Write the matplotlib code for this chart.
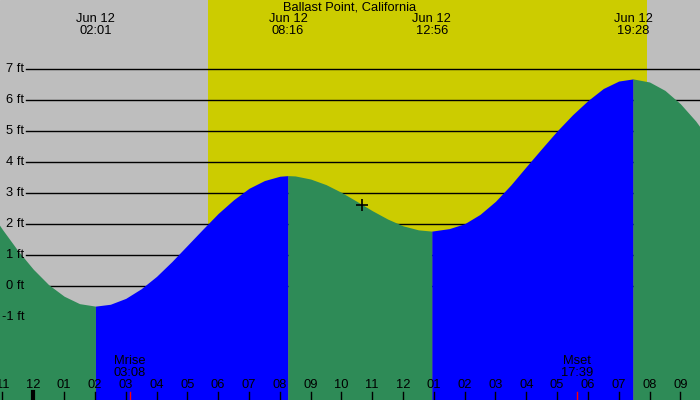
import matplotlib
matplotlib.use("Agg")
import matplotlib.pyplot as plt
import numpy as np

plt.rcParams['font.family'] = ['Liberation Sans', 'DejaVu Sans']

title = "Ballast Point, California"

# tide height readings (hours after midnight Jun 12, feet)
times = [-1.5, -1.0, -0.5, 0.0, 0.5, 1.0, 1.5, 2.017,
         2.5, 3.0, 3.5, 4.0, 4.5, 5.0, 5.5, 6.0, 6.5, 7.0, 7.5, 8.0, 8.267,
         8.5, 9.0, 9.5, 10.0, 10.5, 11.0, 11.5, 12.0, 12.5, 12.933,
         13.5, 14.0, 14.5, 15.0, 15.5, 16.0, 16.5, 17.0, 17.5, 18.0, 18.5, 19.0, 19.467,
         20.0, 20.5, 21.0, 21.5, 22.0]
heights = [2.56, 1.83, 1.15, 0.55, 0.05, -0.32, -0.56, -0.64,
           -0.58, -0.39, -0.08, 0.32, 0.80, 1.32, 1.84, 2.35, 2.79, 3.16, 3.41, 3.55, 3.57,
           3.56, 3.46, 3.28, 3.03, 2.74, 2.44, 2.17, 1.95, 1.82, 1.78,
           1.86, 2.02, 2.32, 2.74, 3.27, 3.86, 4.44, 5.01, 5.53, 5.99, 6.38, 6.62, 6.69,
           6.59, 6.32, 5.89, 5.33, 4.65]

# extremes labelled at top
extreme_times = [2.017, 8.267, 12.933, 19.467]
extreme_labels = ["Jun 12\n02:01", "Jun 12\n08:16", "Jun 12\n12:56", "Jun 12\n19:28"]

sunrise = 5.67
sunset = 19.93

moon_times = [3.133, 17.65]
moon_labels = ["Mrise\n03:08", "Mset\n17:39"]

now_time = 10.678
now_height = 2.62

hour_ticks = list(range(-1, 22))
hour_labels = ["11", "12", "01", "02", "03", "04", "05", "06", "07", "08", "09", "10",
               "11", "12", "01", "02", "03", "04", "05", "06", "07", "08", "09"]

grid_levels = [-1, 0, 1, 2, 3, 4, 5, 6, 7]
grid_labels = ["-1 ft", "0 ft", "1 ft", "2 ft", "3 ft", "4 ft", "5 ft", "6 ft", "7 ft"]

GREY = "#BEBEBE"
YELLOW = "#CCCC00"
GREEN = "#2E8B57"
BLUE = "#0000FF"
FS = 9.3

fig = plt.figure(figsize=(7, 4), dpi=100)
ax = fig.add_axes([0, 0, 1, 1])
ax.set_facecolor(GREY)
x0, x1 = -1.081, 21.639
y0, y1 = -3.668, 9.235
ax.set_xlim(x0, x1)
ax.set_ylim(y0, y1)
ax.axis('off')
ax.add_patch(plt.Rectangle((x0, y0), x1 - x0, y1 - y0, color=GREY, zorder=0))
ax.axvspan(sunrise, sunset, color=YELLOW, zorder=0.5, lw=0)

# grid lines
for lev, lab in zip(grid_levels, grid_labels):
    if lev >= 0:
        ax.axhline(lev, xmin=26 / 700, xmax=1, color='black', lw=1, zorder=1)
    ax.text(24.5 / 700 * (x1 - x0) + x0, lev, lab, ha='right', va='center',
            fontsize=FS, zorder=3)

# tide fill: blue rising, green falling
t = np.array(times)
h = np.array(heights)
rising = np.diff(h) > 0
start = 0
for i in range(1, len(rising) + 1):
    if i == len(rising) or rising[i] != rising[start]:
        seg = slice(start, i + 1)
        ax.fill_between(t[seg], h[seg], y0, color=BLUE if rising[start] else GREEN,
                        lw=0, zorder=2)
        start = i

ax.plot([now_time], [now_height], marker='+', color='black', ms=9, mew=1.2, zorder=4)

def ypix(p):
    return y1 - p / 400 * (y1 - y0)

ax.text((x0 + x1) / 2, ypix(7), title, ha='center', va='center', fontsize=FS, zorder=3)
for et, el in zip(extreme_times, extreme_labels):
    ax.text(et, ypix(25), el, ha='center', va='center', fontsize=FS,
            linespacing=0.95, zorder=3)

for mt, ml in zip(moon_times, moon_labels):
    ax.text(mt, ypix(367), ml, ha='center', va='center', fontsize=FS,
            linespacing=0.95, zorder=3)
    ax.plot([mt, mt], [ypix(392), y0], color='red', lw=1, zorder=3)

for ht, hl in zip(hour_ticks, hour_labels):
    ax.text(ht, ypix(385), hl, ha='center', va='center', fontsize=FS, zorder=3)
    ax.plot([ht, ht], [ypix(392), y0], color='black', lw=3 if ht == 0 else 1, zorder=3)

fig.savefig("out.png", dpi=100)
